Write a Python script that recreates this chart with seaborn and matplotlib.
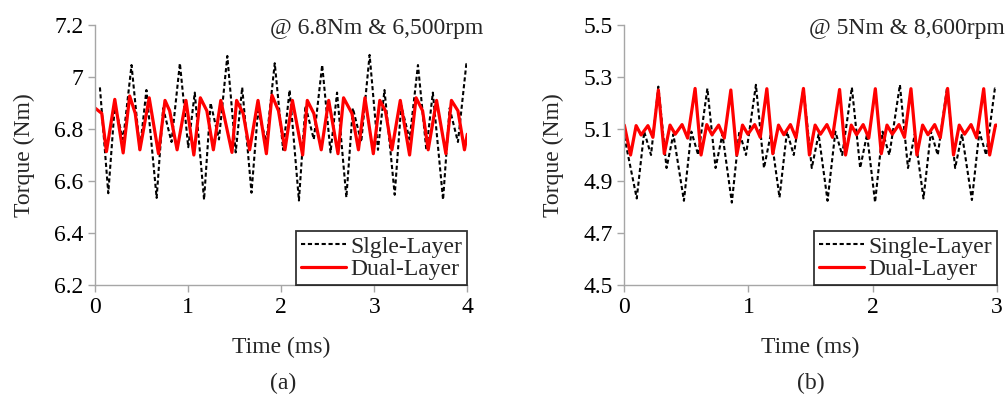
import numpy as np
import pandas as pd
import seaborn as sns
import matplotlib.pyplot as plt

# (a) @ 6.8Nm & 6,500rpm  -- single layer (black dashed)
t_single_a = [0.05, 0.14, 0.21, 0.30, 0.39, 0.48, 0.55,
              0.66, 0.73, 0.82, 0.91, 1.00, 1.07,
              1.17, 1.24, 1.33, 1.42, 1.51, 1.58,
              1.68, 1.75, 1.84, 1.93, 2.02, 2.09,
              2.19, 2.26, 2.35, 2.44, 2.53, 2.60,
              2.70, 2.77, 2.86, 2.95, 3.04, 3.11,
              3.22, 3.29, 3.38, 3.47, 3.56, 3.63,
              3.74, 3.81, 3.90, 3.99, 4.00]
tq_single_a = [6.96, 6.553, 6.89, 6.76, 7.046, 6.72, 6.95,
               6.535, 6.88, 6.75, 7.053, 6.73, 6.94,
               6.528, 6.90, 6.76, 7.081, 6.71, 6.96,
               6.555, 6.87, 6.75, 7.053, 6.72, 6.95,
               6.525, 6.89, 6.76, 7.046, 6.71, 6.94,
               6.537, 6.88, 6.75, 7.085, 6.72, 6.95,
               6.547, 6.89, 6.76, 7.046, 6.72, 6.94,
               6.528, 6.88, 6.75, 7.05, 7.05]

# (a) dual layer (red)
t_dual_a = [0.00, 0.07, 0.12, 0.21, 0.30, 0.37, 0.43, 0.48, 0.58, 0.68,
            0.75, 0.80, 0.88, 0.975, 1.06, 1.13, 1.20, 1.27, 1.35, 1.47,
            1.52, 1.59, 1.66, 1.75, 1.84, 1.90, 1.97, 2.04, 2.12, 2.23,
            2.28, 2.35, 2.43, 2.51, 2.61, 2.67, 2.76, 2.83, 2.90, 2.99,
            3.06, 3.12, 3.19, 3.28, 3.38, 3.45, 3.52, 3.58, 3.67, 3.77,
            3.83, 3.90, 3.97, 4.00]
tq_dual_a = [6.88, 6.86, 6.713, 6.914, 6.708, 6.927, 6.86, 6.72, 6.92, 6.705,
             6.91, 6.87, 6.72, 6.91, 6.70, 6.92, 6.87, 6.72, 6.91, 6.71,
             6.91, 6.86, 6.72, 6.91, 6.705, 6.93, 6.87, 6.72, 6.91, 6.70,
             6.91, 6.86, 6.72, 6.91, 6.705, 6.92, 6.86, 6.72, 6.92, 6.705,
             6.91, 6.87, 6.72, 6.91, 6.70, 6.92, 6.87, 6.72, 6.91, 6.705,
             6.91, 6.87, 6.72, 6.78]

# (b) @ 5Nm & 8,600rpm -- single layer
t_single_b = [0.00, 0.10, 0.16, 0.215, 0.274, 0.34, 0.395,
              0.48, 0.54, 0.595, 0.669, 0.735, 0.79,
              0.866, 0.926, 0.98, 1.06, 1.125, 1.18,
              1.25, 1.31, 1.365, 1.443, 1.51, 1.565,
              1.637, 1.70, 1.755, 1.833, 1.90, 1.955,
              2.02, 2.08, 2.135, 2.22, 2.285, 2.34,
              2.41, 2.47, 2.525, 2.60, 2.665, 2.72,
              2.80, 2.86, 2.915, 2.985, 3.00]
tq_single_b = [5.07, 4.833, 5.09, 5.00, 5.263, 4.95, 5.08,
               4.824, 5.09, 5.00, 5.256, 4.95, 5.08,
               4.817, 5.09, 5.00, 5.27, 4.95, 5.08,
               4.837, 5.09, 5.00, 5.256, 4.95, 5.08,
               4.824, 5.09, 5.00, 5.26, 4.95, 5.08,
               4.818, 5.09, 5.00, 5.27, 4.95, 5.08,
               4.833, 5.09, 5.00, 5.26, 4.95, 5.08,
               4.827, 5.09, 5.00, 5.256, 5.25]

# (b) dual layer
t_dual_b = [0.00, 0.05, 0.095, 0.135, 0.19, 0.23,
            0.274, 0.322, 0.368, 0.41, 0.465, 0.51,
            0.570, 0.618, 0.664, 0.706, 0.76, 0.805,
            0.858, 0.906, 0.952, 0.995, 1.05, 1.095,
            1.148, 1.196, 1.242, 1.285, 1.338, 1.383,
            1.443, 1.491, 1.537, 1.58, 1.632, 1.677,
            1.734, 1.782, 1.828, 1.871, 1.924, 1.969,
            2.022, 2.07, 2.116, 2.159, 2.212, 2.257,
            2.309, 2.357, 2.403, 2.446, 2.50, 2.545,
            2.604, 2.652, 2.698, 2.741, 2.793, 2.838,
            2.895, 2.943, 2.99, 3.00]
tq_dual_b = [5.115, 5.00, 5.113, 5.077, 5.113, 5.068,
             5.25, 5.005, 5.115, 5.08, 5.117, 5.065,
             5.256, 5.00, 5.117, 5.078, 5.115, 5.065,
             5.25, 5.00, 5.115, 5.08, 5.117, 5.068,
             5.255, 5.005, 5.115, 5.078, 5.117, 5.066,
             5.256, 5.00, 5.115, 5.08, 5.117, 5.068,
             5.252, 5.00, 5.115, 5.078, 5.117, 5.065,
             5.255, 5.005, 5.115, 5.08, 5.117, 5.068,
             5.255, 5.00, 5.115, 5.078, 5.117, 5.066,
             5.256, 5.00, 5.115, 5.08, 5.117, 5.066,
             5.255, 5.00, 5.115, 5.115]

yticks_a = [6.2, 6.4, 6.6, 6.8, 7.0, 7.2]
yticklabels_a = ["6.2", "6.4", "6.6", "6.8", "7", "7.2"]
yticks_b = [4.5, 4.7, 4.9, 5.1, 5.3, 5.5]
yticklabels_b = ["4.5", "4.7", "4.9", "5.1", "5.3", "5.5"]

sns.set_style("white")
plt.rcParams['font.family'] = ['Liberation Serif', 'DejaVu Serif']
FS = 17

fig = plt.figure(figsize=(10.07, 3.97), dpi=100)
ax1 = fig.add_axes([0.0946, 0.2821, 0.3694, 0.6549])
ax2 = fig.add_axes([0.62, 0.2821, 0.3698, 0.6549])

panels = [
    (ax1, t_single_a, tq_single_a, t_dual_a, tq_dual_a, "Slgle-Layer",
     [0, 4], [6.2, 7.2], yticks_a, yticklabels_a, "@ 6.8Nm & 6,500rpm", 1.042, "(a)", 0.281),
    (ax2, t_single_b, tq_single_b, t_dual_b, tq_dual_b, "Single-Layer",
     [0, 3], [4.5, 5.5], yticks_b, yticklabels_b, "@ 5Nm & 8,600rpm", 1.022, "(b)", 0.805),
]

for (ax, ts, qs, td, qd, lab1, xl, yl, yt, ytl, ttl, tx, cap, capx) in panels:
    sns.lineplot(x=ts, y=qs, ax=ax, color="black", lw=1.5,
                 linestyle=(0, (2.0, 1.3)), label=lab1, sort=False)
    sns.lineplot(x=td, y=qd, ax=ax, color="#ff0000", lw=2.3,
                 label="Dual-Layer", sort=False)
    for ln in ax.get_lines():
        ln.set_solid_joinstyle("round")
        ln.set_dash_joinstyle("round")
    ax.set_xlim(xl)
    ax.set_ylim(yl)
    ax.set_xticks(range(xl[0], xl[1] + 1))
    ax.set_yticks(yt)
    ax.set_yticklabels(ytl)
    for s in ["top", "right"]:
        ax.spines[s].set_visible(False)
    for s in ["left", "bottom"]:
        ax.spines[s].set_color("#a6a6a6")
        ax.spines[s].set_linewidth(1.0)
    ax.tick_params(axis="both", which="major", direction="out", length=5,
                   width=1.0, color="#a6a6a6", labelsize=FS, labelcolor="black",
                   left=True, bottom=True)
    ax.set_xlabel("Time (ms)", fontsize=FS, labelpad=14)
    ax.set_ylabel("Torque (Nm)", fontsize=FS, labelpad=14)
    ax.text(tx, 0.988, ttl, transform=ax.transAxes, ha="right", va="center",
            fontsize=FS)
    leg = ax.legend(loc="lower right", fontsize=FS, frameon=True,
                    fancybox=False, edgecolor="black", borderpad=0.2,
                    labelspacing=0.05, handlelength=1.9, handletextpad=0.2,
                    borderaxespad=0.0)
    leg.get_frame().set_linewidth(1.3)
    fig.text(capx, 0.035, cap, ha="center", va="center", fontsize=FS)

fig.savefig("out.png", dpi=100)
